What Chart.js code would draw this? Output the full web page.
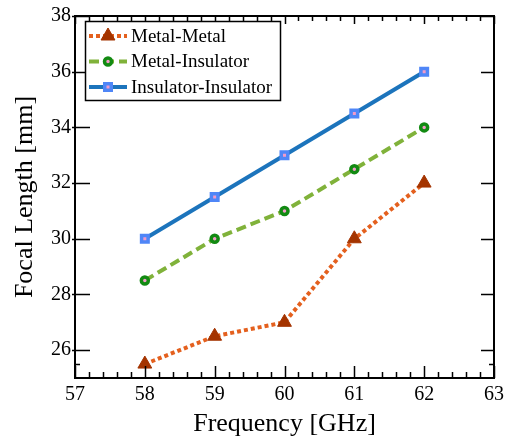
<!DOCTYPE html>
<html>
<head>
<meta charset="utf-8">
<script src="https://cdn.jsdelivr.net/npm/chart.js@4/dist/chart.umd.min.js"></script>
<style>
  html, body { margin: 0; padding: 0; background: #fff; }
  #wrap { width: 511px; height: 443px; }
</style>
</head>
<body>
<div id="wrap"><canvas id="chart" width="511" height="443"></canvas></div>
<script>
// data
const freqs = [58, 59, 60, 61, 62];
const metalMetal = [25.5, 26.5, 27, 30, 32];
const metalInsulator = [28.5, 30, 31, 32.5, 34];
const insulatorInsulator = [30, 31.5, 33, 34.5, 36];
const seriesNames = ["Metal-Metal", "Metal-Insulator", "Insulator-Insulator"];
const xTicks = [57, 58, 59, 60, 61, 62, 63];
const yTicks = [26, 28, 30, 32, 34, 36, 38];
const yMinor = [25.5];

const serif = "'Liberation Serif', 'DejaVu Serif', serif";

function pts(ys) {
  return freqs.map((f, i) => ({ x: f, y: ys[i] }));
}

// inward ticks + box frame, like the original plot
const frameTicks = {
  id: "frameTicks",
  afterDatasetsDraw(chart) {
    const ctx = chart.ctx;
    const a = chart.chartArea;
    const xs = chart.scales.x, ys = chart.scales.y;
    ctx.save();
    ctx.strokeStyle = "#000";
    ctx.lineWidth = 1.5;
    // minor x ticks every 0.2
    for (let v = 57; v <= 63.001; v += 0.2) {
      const px = Math.round(xs.getPixelForValue(v)) + 0.5;
      const major = Math.abs(v - Math.round(v)) < 0.01;
      const len = major ? 12 : 6;
      ctx.beginPath();
      ctx.moveTo(px, a.bottom); ctx.lineTo(px, a.bottom - len);
      ctx.moveTo(px, a.top); ctx.lineTo(px, a.top + (major ? 8 : 5));
      ctx.stroke();
    }
    yTicks.forEach(v => {
      const py = Math.round(ys.getPixelForValue(v)) + 0.5;
      ctx.beginPath();
      ctx.moveTo(a.left - 3, py); ctx.lineTo(a.left + 15, py);
      ctx.moveTo(a.right, py); ctx.lineTo(a.right - 13, py);
      ctx.stroke();
    });
    yMinor.forEach(v => {
      const py = Math.round(ys.getPixelForValue(v)) + 0.5;
      ctx.beginPath();
      ctx.moveTo(a.left, py); ctx.lineTo(a.left + 5, py);
      ctx.moveTo(a.right, py); ctx.lineTo(a.right - 5, py);
      ctx.stroke();
    });
    ctx.lineWidth = 2;
    ctx.strokeRect(a.left, a.top, a.right - a.left, a.bottom - a.top);
    ctx.restore();
  }
};

// legend box with line + marker samples
const boxLegend = {
  id: "boxLegend",
  afterDraw(chart) {
    const ctx = chart.ctx;
    const bx = 85, by = 21, bw = 195, bh = 79;
    ctx.save();
    ctx.fillStyle = "#fff";
    ctx.fillRect(bx, by, bw, bh);
    ctx.strokeStyle = "#000";
    ctx.lineWidth = 1.5;
    ctx.strokeRect(bx + 0.5, by + 0.5, bw, bh);
    chart.data.datasets.forEach((ds, i) => {
      const y = 36 + i * 25.5;
      ctx.save();
      ctx.strokeStyle = ds.borderColor;
      ctx.lineWidth = ds.borderWidth;
      ctx.setLineDash(ds.borderDash || []);
      ctx.beginPath();
      ctx.moveTo(89, y); ctx.lineTo(127, y);
      ctx.stroke();
      ctx.restore();
      ctx.fillStyle = ds.pointBackgroundColor;
      ctx.strokeStyle = ds.pointBorderColor;
      ctx.lineWidth = ds.pointBorderWidth;
      Chart.helpers.drawPoint(ctx, {
        pointStyle: ds.pointStyle, radius: ds.pointRadius,
        borderWidth: ds.pointBorderWidth, rotation: 0
      }, 108, y);
      ctx.fillStyle = "#000";
      ctx.font = "19px " + serif;
      ctx.textBaseline = "middle";
      ctx.fillText(ds.label, 131, y + 1);
    });
    ctx.restore();
  }
};

new Chart(document.getElementById("chart"), {
  type: "line",
  data: {
    datasets: [
      {
        label: seriesNames[0], data: pts(metalMetal),
        borderColor: "#e4601e", borderWidth: 4, borderDash: [4, 3],
        pointStyle: "triangle", pointRadius: 8,
        pointBackgroundColor: "#a43400", pointBorderColor: "#a43400", pointBorderWidth: 1
      },
      {
        label: seriesNames[1], data: pts(metalInsulator),
        borderColor: "#80b23a", borderWidth: 4, borderDash: [10, 5],
        pointStyle: "circle", pointRadius: 3.5,
        pointBackgroundColor: "#f39ac8", pointBorderColor: "#128a12", pointBorderWidth: 3.5
      },
      {
        label: seriesNames[2], data: pts(insulatorInsulator),
        borderColor: "#1c74bc", borderWidth: 4,
        pointStyle: "rect", pointRadius: 4.6,
        pointBackgroundColor: "#f39ac8", pointBorderColor: "#4f86f7", pointBorderWidth: 3.5
      }
    ]
  },
  options: {
    responsive: false,
    animation: false,
    layout: { padding: { top: 13, right: 17, left: 0, bottom: 0 } },
    plugins: { legend: { display: false }, tooltip: { enabled: false } },
    scales: {
      x: {
        type: "linear", min: 57, max: 63,
        afterBuildTicks(s) { s.ticks = xTicks.map(v => ({ value: v })); },
        afterFit(s) { s.height = 65; },
        grid: { display: false, drawTicks: false },
        border: { display: false },
        ticks: { color: "#000", font: { family: serif, size: 20 }, padding: 5 },
        title: { display: true, text: "Frequency [GHz]", color: "#000",
          font: { family: serif, size: 26 }, padding: { top: 0, bottom: 3 } }
      },
      y: {
        min: 25, max: 38,
        afterBuildTicks(s) { s.ticks = yTicks.map(v => ({ value: v })); },
        afterFit(s) { s.width = 75; },
        grid: { display: false, drawTicks: false },
        border: { display: false },
        ticks: { color: "#000", font: { family: serif, size: 20 }, padding: 4 },
        title: { display: true, text: "Focal Length [mm]", color: "#000",
          font: { family: serif, size: 26 }, padding: { top: 10, bottom: 0 } }
      }
    }
  },
  plugins: [frameTicks, boxLegend]
});
</script>
</body>
</html>
